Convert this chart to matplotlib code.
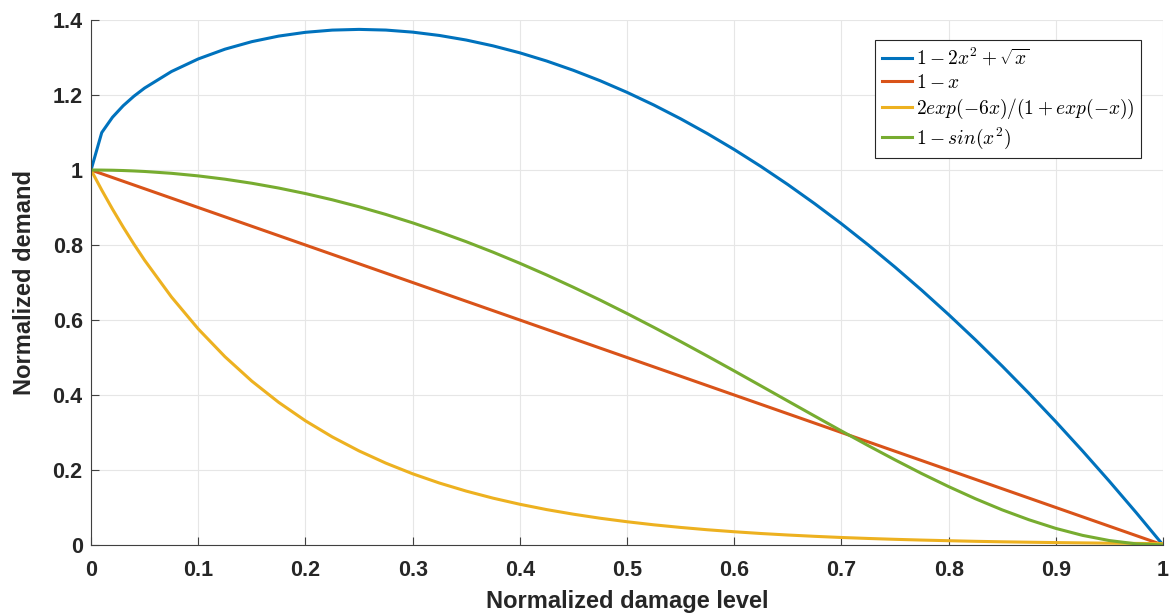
import matplotlib
matplotlib.use("Agg")
import matplotlib.pyplot as plt
from matplotlib.ticker import FuncFormatter

# sampled damage levels
x = [0, 0.01, 0.02, 0.03, 0.04, 0.05, 0.075, 0.1, 0.125, 0.15, 0.175, 0.2,
     0.225, 0.25, 0.275, 0.3, 0.325, 0.35, 0.375, 0.4, 0.425, 0.45, 0.475,
     0.5, 0.525, 0.55, 0.575, 0.6, 0.625, 0.65, 0.675, 0.7, 0.725, 0.75,
     0.775, 0.8, 0.825, 0.85, 0.875, 0.9, 0.925, 0.95, 0.975, 1.0]

blue = [1.0, 1.0998, 1.1406, 1.1714, 1.1968, 1.2186, 1.2626, 1.2962, 1.3223,
        1.3423, 1.3571, 1.3672, 1.3731, 1.375, 1.3732, 1.3677, 1.3588, 1.3466,
        1.3311, 1.3125, 1.2907, 1.2658, 1.2380, 1.2071, 1.1733, 1.1366, 1.0970,
        1.0546, 1.0093, 0.9612, 0.9103, 0.8567, 0.8002, 0.7410, 0.6791, 0.6144,
        0.5471, 0.4770, 0.4042, 0.3287, 0.2505, 0.1697, 0.0862, 0.0]

red = [1.0, 0.99, 0.98, 0.97, 0.96, 0.95, 0.925, 0.9, 0.875, 0.85, 0.825, 0.8,
       0.775, 0.75, 0.725, 0.7, 0.675, 0.65, 0.625, 0.6, 0.575, 0.55, 0.525,
       0.5, 0.475, 0.45, 0.425, 0.4, 0.375, 0.35, 0.325, 0.3, 0.275, 0.25,
       0.225, 0.2, 0.175, 0.15, 0.125, 0.1, 0.075, 0.05, 0.025, 0.0]

yellow = [1.0, 0.9465, 0.8958, 0.8478, 0.8024, 0.7593, 0.6615, 0.5762, 0.5019,
          0.4370, 0.3805, 0.3312, 0.2883, 0.2509, 0.2183, 0.1899, 0.1652, 0.1437,
          0.1249, 0.1086, 0.0944, 0.0821, 0.0713, 0.0620, 0.0538, 0.0468, 0.0406,
          0.0353, 0.0306, 0.0266, 0.0231, 0.0200, 0.0174, 0.0151, 0.0131, 0.0114,
          0.0098, 0.0085, 0.0074, 0.0064, 0.0056, 0.0048, 0.0042, 0.0036]

green = [1.0, 0.9998, 0.9994, 0.9986, 0.9975, 0.9961, 0.9912, 0.9843, 0.9755,
         0.9647, 0.9519, 0.9372, 0.9206, 0.9020, 0.8815, 0.8591, 0.8348, 0.8088,
         0.7809, 0.7513, 0.7201, 0.6872, 0.6530, 0.6173, 0.5804, 0.5425, 0.5037,
         0.4642, 0.4242, 0.3840, 0.3439, 0.3041, 0.2650, 0.2270, 0.1903, 0.1557,
         0.1233, 0.0936, 0.0672, 0.0442, 0.0256, 0.0118, 0.0030, 0.0]

labels = [r"$1-2x^2+\sqrt{x}$", r"$1-x$",
          r"$2exp(-6x)/(1+exp(-x))$", r"$1-sin(x^2)$"]
colors = ["#0072BD", "#D95319", "#EDB120", "#77AC30"]

plt.rcParams["mathtext.fontset"] = "cm"
plt.rcParams["font.family"] = ["Liberation Sans", "DejaVu Sans"]

fig = plt.figure(figsize=(11.73, 6.14), dpi=100)
ax = fig.add_axes([0.0776, 0.1124, 0.9139, 0.855])

for series, lab, c in zip([blue, red, yellow, green], labels, colors):
    ax.plot(x, series, color=c, lw=2.2, label=lab)

ax.set_xlim(0, 1)
ax.set_ylim(0, 1.4)
ax.set_xticks([i / 10 for i in range(11)])
ax.set_yticks([i / 5 for i in range(8)])
ax.xaxis.set_major_formatter(FuncFormatter(lambda v, p: f"{v:g}"))
ax.yaxis.set_major_formatter(FuncFormatter(lambda v, p: f"{v:g}"))
ax.tick_params(direction="in", length=6, width=0.8, colors="#404040",
               labelsize=15.5, labelcolor="#262626")
ax.tick_params(axis="x", pad=11)
ax.tick_params(axis="y", pad=6)
for lbl in ax.get_xticklabels() + ax.get_yticklabels():
    lbl.set_fontweight("bold")
ax.grid(True, color="#e6e6e6", lw=0.8)
ax.set_axisbelow(True)
for side in ["top", "right"]:
    ax.spines[side].set_visible(False)
for side in ["left", "bottom"]:
    ax.spines[side].set_color("#404040")

ax.set_xlabel("Normalized damage level", fontsize=17, fontweight="bold",
              color="#262626", labelpad=6)
ax.set_ylabel("Normalized demand", fontsize=17, fontweight="bold",
              color="#262626", labelpad=12)

leg = ax.legend(loc="upper right", bbox_to_anchor=(0.9795, 0.962), fontsize=14,
                handlelength=1.55, handletextpad=0.2, borderpad=0.35,
                labelspacing=0.25, borderaxespad=0, fancybox=False,
                framealpha=1)
leg.get_frame().set_edgecolor("#262626")
leg.get_frame().set_linewidth(0.8)

fig.savefig("out.png", dpi=100)
